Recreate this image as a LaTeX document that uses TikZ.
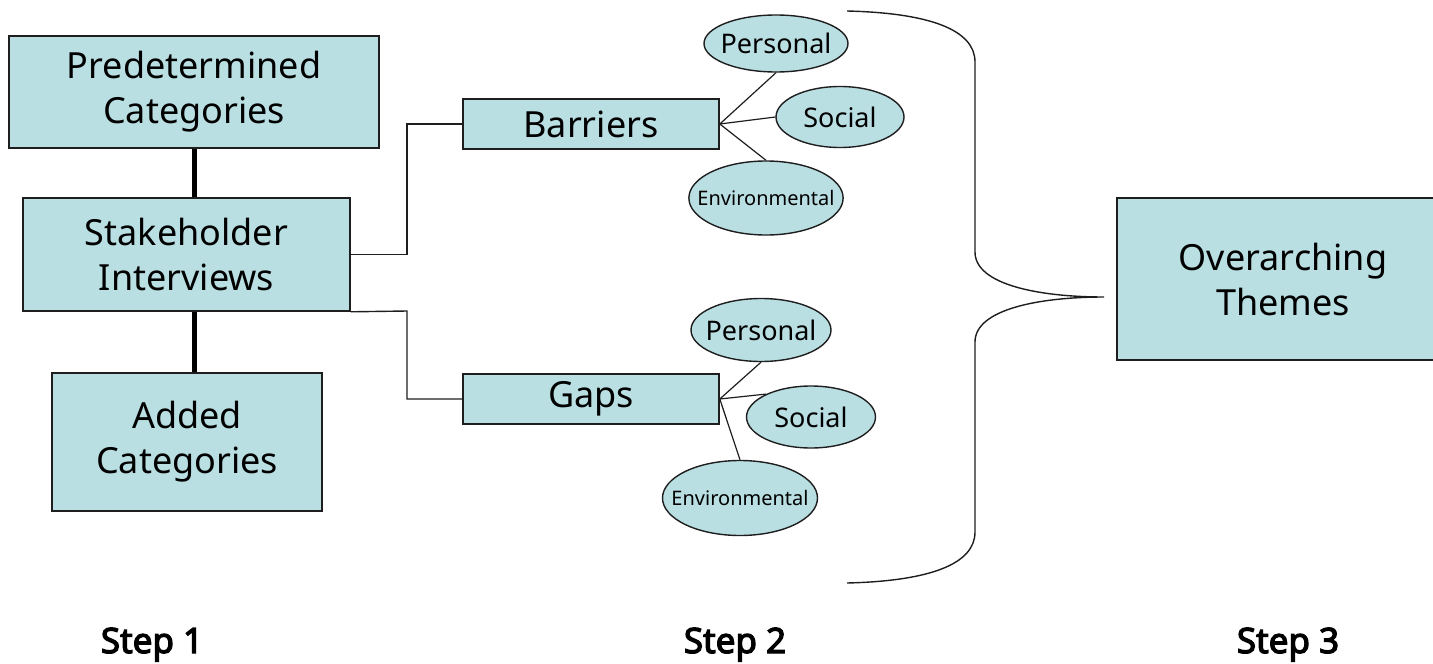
\documentclass[tikz,border=0pt]{standalone}
\usepackage{fontspec}
\setmainfont{Noto Sans}[AutoFakeBold=3.5]
\usepackage{xcolor}
\usepackage{tikz}
\usetikzlibrary{shapes.geometric}
\usetikzlibrary{positioning}

\definecolor{boxblue}{RGB}{185,223,227}
\definecolor{edge}{RGB}{30,30,30}

\tikzset{
  box/.style={draw=edge,line width=1.6pt,fill=boxblue,rectangle,align=center,inner sep=0pt,
    font=\fontsize{36}{45}\selectfont},
  bubble/.style={draw=edge,line width=1.4pt,fill=boxblue,ellipse,inner ysep=0pt,inner xsep=-6pt,
    font=\fontsize{27}{32}\selectfont},
  smallbubble/.style={bubble,inner xsep=-14pt,font=\fontsize{20}{24}\selectfont},
  steplabel/.style={anchor=base,font=\fontsize{35}{40}\selectfont\bfseries},
}

\begin{document}
\begin{tikzpicture}[x=1pt,y=-1pt]
\useasboundingbox (0,0) rectangle (1433,664);

% step 1
\node [box,minimum width=370pt,minimum height=112pt] (pre) at (194,92) {Predetermined\\Categories};
\node [box,minimum width=327pt,minimum height=113pt] (stake) at (186.5,254.5) {Stakeholder\\Interviews};
\node [box,minimum width=270pt,minimum height=138pt] (added) at (187,442) {Added\\Categories};
\draw [line width=5pt] (pre.south -| 194,0) -- (stake.north -| 194,0);
\draw [line width=5pt] (stake.south -| 194,0) -- (added.north -| 194,0);

% step 2
\node [box,minimum width=256pt,minimum height=50pt] (barriers) at (591,124) {Barriers};
\node [box,minimum width=256pt,minimum height=50pt] (gaps) at (591,399) {Gaps};
\draw [edge,line width=1.4pt] (stake.east) -- (407,254.5) |- (barriers.west);
\draw [edge,line width=1.4pt] (stake.south east) -- (407,311) |- (gaps.west);

\node [bubble,minimum width=144pt,minimum height=57pt] (bper) at (776,43.5) {Personal};
\node [bubble,minimum width=128pt,minimum height=61pt] (bsoc) at (840,117) {Social};
\node [smallbubble,minimum width=152pt,minimum height=74pt] (benv) at (766,198) {Environmental};
\draw [edge,line width=1.2pt] (barriers.east) -- (bper.south);
\draw [edge,line width=1.2pt] (barriers.east) -- (bsoc.west);
\draw [edge,line width=1.2pt] (barriers.east) -- (benv.north);

\node [bubble,minimum width=140pt,minimum height=63pt] (gper) at (761,330) {Personal};
\node [bubble,minimum width=129pt,minimum height=62pt] (gsoc) at (811,417) {Social};
\node [smallbubble,minimum width=155pt,minimum height=75pt] (genv) at (740,498) {Environmental};
\draw [edge,line width=1.2pt] (gaps.east) -- (gper.south);
\draw [edge,line width=1.2pt] (gaps.east) -- (gsoc.153);
\draw [edge,line width=1.2pt] (gaps.east) -- (genv.north);

% step 3
\coordinate (bracetop) at (847,11);
\coordinate (bracetip) at (1104,297);
\coordinate (bracebot) at (847,583);
\draw [edge,line width=1.4pt] (bracetop) .. controls (930,13) and (975,30) .. (975,62)
  -- (975,252) .. controls (975,285) and (1040,297) .. (bracetip)
  .. controls (1040,297) and (975,309) .. (975,342)
  -- (975,532) .. controls (975,564) and (930,581) .. (bracebot);
\node [box,minimum width=332pt,minimum height=162pt] (themes) at (1283,279) {Overarching\\Themes};

\node [steplabel] (s1) at (152,653) {Step 1};
\node [steplabel] (s2) at (735,653) {Step 2};
\node [steplabel] (s3) at (1288,653) {Step 3};
\end{tikzpicture}
\end{document}
